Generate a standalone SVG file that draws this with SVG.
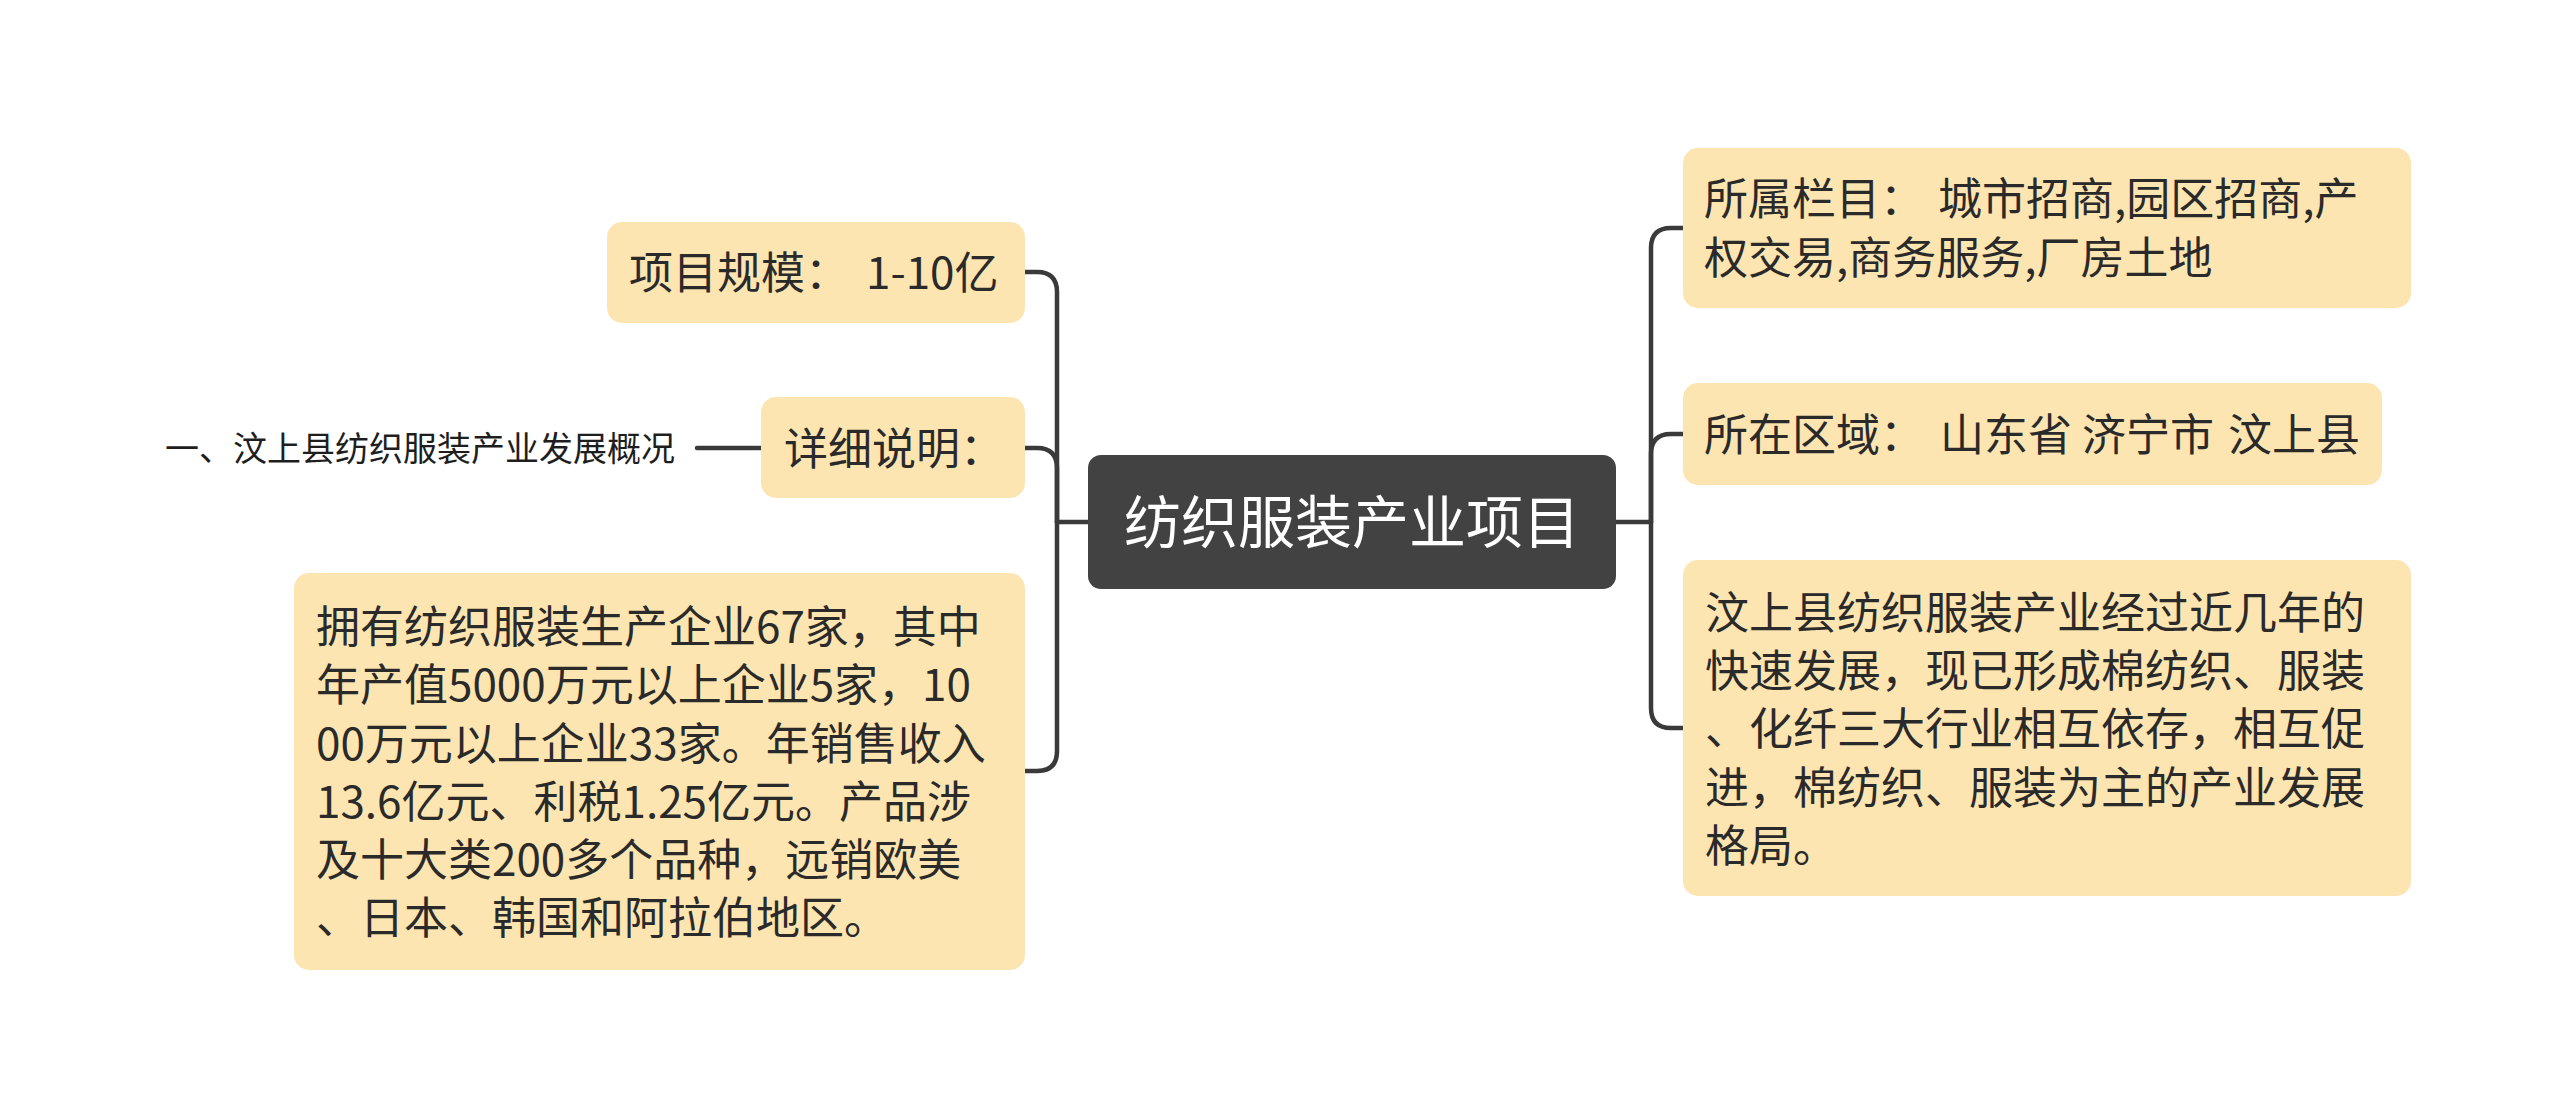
<svg xmlns="http://www.w3.org/2000/svg" width="2560" height="1118" viewBox="0 0 2560 1118">
<style>
  .node { fill: #FDE5B1; }
  .root { fill: #424242; }
  .t { font-family: "Noto Sans CJK SC", "Noto Sans", sans-serif; font-size: 44px; fill: #2a2a2a; }
  .rt { font-family: "Noto Sans CJK SC", "Noto Sans", sans-serif; font-size: 57px; fill: #ffffff; }
  .lab { font-family: "Noto Sans CJK SC", "Noto Sans", sans-serif; font-size: 34px; fill: #1e1e1e; }
  .ln { fill: none; stroke: #3a3a3a; stroke-width: 4.5; stroke-linecap: round; }
</style>
<rect width="2560" height="1118" fill="#ffffff"/>
<g id="connectors">
  <path class="ln" d="M1088,522 H1057"/>
  <path class="ln" d="M1057,522 V292 Q1057,272 1037,272 H1025"/>
  <path class="ln" d="M1057,522 V468 Q1057,448 1037,448 H1025"/>
  <path class="ln" d="M1057,522 V751 Q1057,771 1037,771 H1025"/>
  <path class="ln" d="M761,448 H697"/>
  <path class="ln" d="M1616,522 H1651"/>
  <path class="ln" d="M1651,522 V248 Q1651,228 1671,228 H1683"/>
  <path class="ln" d="M1651,522 V454 Q1651,434 1671,434 H1683"/>
  <path class="ln" d="M1651,522 V708 Q1651,728 1671,728 H1683"/>
</g>
<g id="root">
  <rect class="root" x="1088" y="455" width="528" height="134" rx="13"/>
  <text class="rt" x="1352" y="543" text-anchor="middle">纺织服装产业项目</text>
</g>
<g id="node-scale">
  <rect class="node" x="607" y="222" width="418" height="101" rx="15"/>
  <text class="t" y="289"><tspan x="629">项目规模：</tspan><tspan x="866">1-10亿</tspan></text>
</g>
<g id="node-detail">
  <rect class="node" x="761" y="397" width="264" height="101" rx="15"/>
  <text class="t" x="784" y="465">详细说明：</text>
</g>
<g id="node-detail-label">
  <text class="lab" x="165" y="461">一、汶上县纺织服装产业发展概况</text>
</g>
<g id="node-companies">
  <rect class="node" x="294" y="573" width="731" height="397" rx="15"/>
  <text class="t">
    <tspan x="316" y="643">拥有纺织服装生产企业67家，其中</tspan>
    <tspan x="316" y="701">年产值5000万元以上企业5家，10</tspan>
    <tspan x="316" y="760">00万元以上企业33家。年销售收入</tspan>
    <tspan x="316" y="818">13.6亿元、利税1.25亿元。产品涉</tspan>
    <tspan x="316" y="876">及十大类200多个品种，远销欧美</tspan>
    <tspan x="316" y="934">、日本、韩国和阿拉伯地区。</tspan>
  </text>
</g>
<g id="node-column">
  <rect class="node" x="1683" y="148" width="728" height="160" rx="15"/>
  <text class="t">
    <tspan x="1704" y="215">所属栏目：</tspan><tspan x="1938" y="215">城市招商,园区招商,产</tspan>
    <tspan x="1704" y="274">权交易,商务服务,厂房土地</tspan>
  </text>
</g>
<g id="node-region">
  <rect class="node" x="1683" y="383" width="699" height="102" rx="15"/>
  <text class="t" y="451"><tspan x="1704">所在区域：</tspan><tspan x="1940">山东省</tspan><tspan x="2082">济宁市</tspan><tspan x="2228">汶上县</tspan></text>
</g>
<g id="node-overview">
  <rect class="node" x="1683" y="560" width="728" height="336" rx="15"/>
  <text class="t">
    <tspan x="1705" y="629">汶上县纺织服装产业经过近几年的</tspan>
    <tspan x="1705" y="687">快速发展，现已形成棉纺织、服装</tspan>
    <tspan x="1705" y="745">、化纤三大行业相互依存，相互促</tspan>
    <tspan x="1705" y="804">进，棉纺织、服装为主的产业发展</tspan>
    <tspan x="1705" y="862">格局。</tspan>
  </text>
</g>
</svg>
